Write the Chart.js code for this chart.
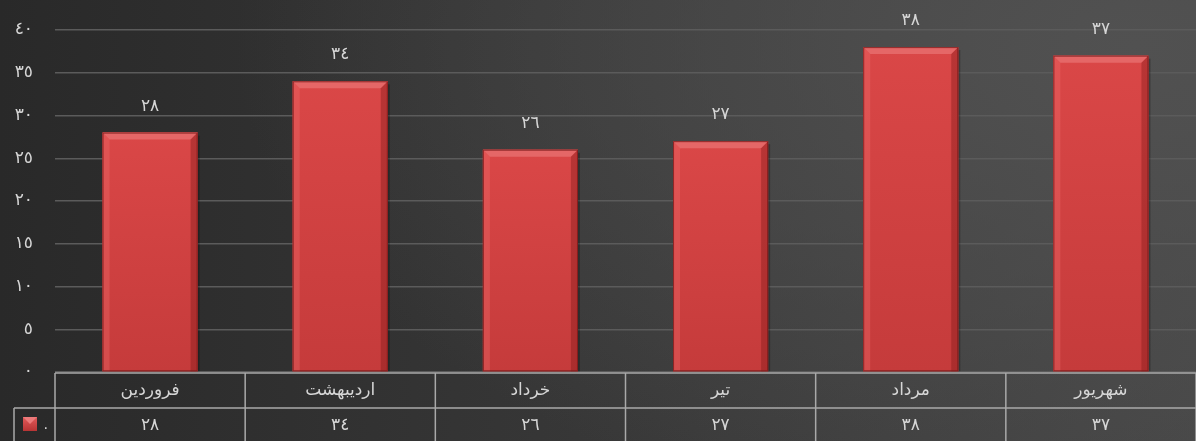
<!DOCTYPE html>
<html>
<head>
<meta charset="utf-8">
<script src="https://cdn.jsdelivr.net/npm/chart.js@4/dist/chart.umd.min.js"></script>
<style>
  html, body { margin: 0; padding: 0; }
  body {
    width: 1196px; height: 441px; overflow: hidden;
    background: radial-gradient(ellipse 900px 500px at 95% 10%, #515151 0%, rgba(75,75,75,0) 100%),
                linear-gradient(to right, #292929 0%, #363636 45%, #474747 100%);
  }
  #wrap { position: relative; width: 1196px; height: 441px; }
  canvas { display: block; }
</style>
</head>
<body>
<div id="wrap"><canvas id="myChart" width="1196" height="441"></canvas></div>
<script>
// months (left to right as in the picture)
var months = ['فروردین', 'اردیبهشت', 'خرداد', 'تیر', 'مرداد', 'شهریور'];
var values = [28, 34, 26, 27, 38, 37];
var seriesName = '٠';
var yMax = 40, yStep = 5;

var FONT = '"DejaVu Sans", sans-serif';
var TEXT = '#d6d6d6';

function fa(n) {
  return String(n).replace(/[0-9]/g, function (d) { return String.fromCharCode(0x0660 + +d); });
}

// bevelled bars, drawn over the plain bars the library puts down
var bevel = {
  id: 'bevel',
  afterDatasetsDraw: function (chart) {
    var ctx = chart.ctx;
    chart.getDatasetMeta(0).data.forEach(function (bar) {
      var w = bar.width, l = bar.x - w / 2, r = bar.x + w / 2, t = bar.y, b = bar.base;
      var s = 7;
      ctx.save();
      // shadow on the right
      ctx.fillStyle = 'rgba(0,0,0,0.25)';
      ctx.fillRect(r, t + 3, 2, b - t - 3);
      // face
      var g = ctx.createLinearGradient(0, t, 0, b);
      g.addColorStop(0, '#da4747');
      g.addColorStop(1, '#c53b3b');
      ctx.fillStyle = g;
      ctx.fillRect(l, t, w, b - t);
      // top bevel
      ctx.fillStyle = '#e56767';
      ctx.beginPath();
      ctx.moveTo(l, t); ctx.lineTo(r, t); ctx.lineTo(r - s, t + s); ctx.lineTo(l + s, t + s);
      ctx.closePath(); ctx.fill();
      // left bevel
      ctx.fillStyle = 'rgba(240,110,110,0.35)';
      ctx.beginPath();
      ctx.moveTo(l, t); ctx.lineTo(l + s, t + s); ctx.lineTo(l + s, b); ctx.lineTo(l, b);
      ctx.closePath(); ctx.fill();
      // right bevel
      ctx.fillStyle = 'rgba(120,20,20,0.35)';
      ctx.beginPath();
      ctx.moveTo(r, t); ctx.lineTo(r - s, t + s); ctx.lineTo(r - s, b); ctx.lineTo(r, b);
      ctx.closePath(); ctx.fill();
      // outline
      ctx.strokeStyle = 'rgba(120,25,25,0.8)';
      ctx.lineWidth = 1;
      ctx.strokeRect(l + 0.5, t + 0.5, w - 1, b - t - 1);
      ctx.restore();
    });
  }
};

// value labels over bars and the data table under the plot
var labelsAndTable = {
  id: 'labelsAndTable',
  afterDraw: function (chart) {
    var ctx = chart.ctx, xs = chart.scales.x, area = chart.chartArea;
    ctx.save();
    ctx.fillStyle = TEXT;
    ctx.font = '17px ' + FONT;
    ctx.textAlign = 'center';
    ctx.textBaseline = 'bottom';
    chart.getDatasetMeta(0).data.forEach(function (bar, i) {
      ctx.fillText(fa(values[i]), bar.x, bar.y - 18);
    });

    var top = area.bottom + 1, mid = top + 35, bottom = chart.height + 2;
    var half = (xs.getPixelForValue(1) - xs.getPixelForValue(0)) / 2;
    ctx.strokeStyle = '#a9a9a9';
    ctx.lineWidth = 1.5;
    ctx.beginPath();
    ctx.moveTo(area.left, top); ctx.lineTo(area.right, top);
    ctx.moveTo(14, mid); ctx.lineTo(area.right, mid);
    ctx.moveTo(14, mid); ctx.lineTo(14, bottom);
    ctx.moveTo(area.left, top); ctx.lineTo(area.left, bottom);
    months.forEach(function (m, i) {
      var x = xs.getPixelForValue(i) + half;
      ctx.moveTo(x, top); ctx.lineTo(x, bottom);
    });
    ctx.stroke();

    ctx.textBaseline = 'middle';
    ctx.font = '17px ' + FONT;
    months.forEach(function (m, i) {
      var x = xs.getPixelForValue(i);
      ctx.fillText(m, x, (top + mid) / 2);
      ctx.fillText(fa(values[i]), x, (mid + bottom) / 2);
    });
    // legend key
    var kx = 23, ky = mid + 9;
    var kg = ctx.createLinearGradient(0, ky, 0, ky + 14);
    kg.addColorStop(0, '#e25a5a'); kg.addColorStop(1, '#b83434');
    ctx.fillStyle = kg;
    ctx.fillRect(kx, ky, 14, 14);
    ctx.fillStyle = '#ec7a7a';
    ctx.beginPath();
    ctx.moveTo(kx, ky); ctx.lineTo(kx + 14, ky); ctx.lineTo(kx + 7, ky + 7); ctx.closePath(); ctx.fill();
    ctx.fillStyle = TEXT;
    ctx.font = '14px ' + FONT;
    ctx.textAlign = 'left';
    ctx.fillText(seriesName, 42, ky + 11);
    ctx.restore();
  }
};

var ctx = document.getElementById('myChart').getContext('2d');
var myChart = new Chart(ctx, {
  type: 'bar',
  data: {
    labels: months,
    datasets: [{
      label: seriesName,
      data: values,
      backgroundColor: '#d44444',
      borderWidth: 0,
      barPercentage: 0.5,
      categoryPercentage: 1
    }]
  },
  options: {
    responsive: false,
    animation: false,
    devicePixelRatio: 1,
    layout: { padding: { top: 30, bottom: 69, left: 0, right: 0 } },
    plugins: { legend: { display: false }, tooltip: { enabled: false } },
    scales: {
      x: {
        display: false
      },
      y: {
        min: 0, max: yMax,
        ticks: {
          stepSize: yStep,
          color: TEXT,
          padding: 22,
          font: { family: FONT, size: 17 },
          callback: function (v) { return fa(v); }
        },
        grid: { color: '#5b5b5b', lineWidth: 1.5, drawTicks: false },
        border: { display: false },
        afterFit: function (s) { s.width = 55; s.paddingTop = 0; s.paddingBottom = 0; }
      }
    }
  },
  plugins: [bevel, labelsAndTable]
});
</script>
</body>
</html>
